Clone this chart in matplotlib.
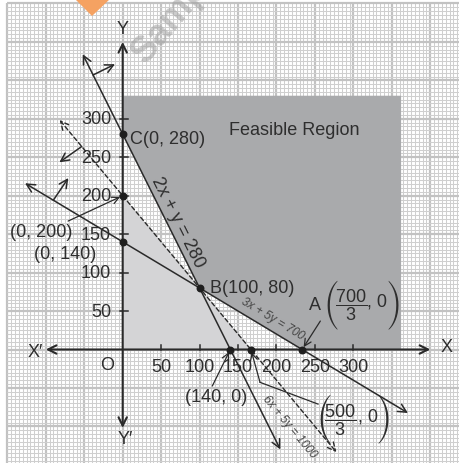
import numpy as np
import matplotlib
matplotlib.use("Agg")
import matplotlib.pyplot as plt
from matplotlib.patches import Polygon

plt.rcParams['font.family'] = ['Liberation Sans', 'DejaVu Sans']
plt.rcParams['mathtext.fontset'] = 'custom'
plt.rcParams['mathtext.rm'] = 'Liberation Sans'
plt.rcParams['mathtext.it'] = 'Liberation Sans:italic'
plt.rcParams['mathtext.bf'] = 'Liberation Sans:bold'

# ---- data ----
line_a = [2, 6, 3]
line_b = [1, 5, 5]
line_c = [280, 1000, 700]
line_x_start = [-52, -82, -127]
line_x_end = [205, 278, 371]
line_dashed = [False, True, False]
line_labels = ["2x + y = 280", "6x + 5y = 1000", "3x + 5y = 700"]

point_x = [0, 0, 0, 100, 140, 500 / 3, 700 / 3]
point_y = [280, 200, 140, 80, 0, 0, 0]

region_xmax = 362
region_ymax = 330

tick_vals = [50, 100, 150, 200, 250, 300]
tick_labels = ["50", "100", "150", "200", "250", "300"]

# half-plane indicator arrows: (start on line x, end x, end y)
hp_start_x = [-38.5, -53.3, -90.2]
hp_end = [(-10, 371), (-82.4, 243.4), (-70.7, 223)]

# ---- figure ----
W, H = 460, 464
fig = plt.figure(figsize=(W / 100, H / 100), dpi=100)
ax = fig.add_axes([0, 0, 1, 1])
u = 1 / 0.769
ox, oy = 122.7, 350.5
ax.set_xlim(-ox * u, (W - ox) * u)
ax.set_ylim(-(H - oy) * u, oy * u)
ax.set_aspect('equal')
ax.axis('off')

TXT = '#2e2e2e'
LN = '#2a2a2a'

# graph paper background
gx0, gy1 = -150, 450
xmax, ymin = ax.get_xlim()[1], ax.get_ylim()[0]
for gx in np.arange(gx0, xmax + 5, 5):
    major = (gx % 50 == 0)
    ax.plot([gx, gx], [ymin - 5, gy1], color='#c2c2c2' if major else '#cfcfcf',
            lw=1.6 if major else 0.75, zorder=0, solid_capstyle='butt')
for gy in np.arange(gy1, ymin - 5, -5):
    major = (gy % 50 == 0)
    ax.plot([gx0, xmax + 5], [gy, gy], color='#c2c2c2' if major else '#cfcfcf',
            lw=1.6 if major else 0.75, zorder=0, solid_capstyle='butt')

# light region: below dashed line in first quadrant
xi = line_c[1] / line_a[1]
yi = line_c[1] / line_b[1]
ax.add_patch(Polygon([(0, 0), (xi, 0), (0, yi)], closed=True,
                     facecolor='#d4d4d6', edgecolor='none', zorder=1))

# feasible region
Ax = line_c[2] / line_a[2]
Cy = line_c[0] / line_b[0]
ax.add_patch(Polygon([(Ax, 0), (region_xmax, 0), (region_xmax, region_ymax),
                      (0, region_ymax), (0, Cy), (point_x[3], point_y[3])],
                     closed=True, facecolor='#a9aaac', edgecolor='none', zorder=1))

arrow_kw = dict(arrowstyle='<->,head_length=0.6,head_width=0.3', color=LN, lw=1.1,
                shrinkA=0, shrinkB=0)

# constraint lines
for a, b, c, xs, xe, d in zip(line_a, line_b, line_c, line_x_start, line_x_end, line_dashed):
    ys = (c - a * xs) / b
    ye = (c - a * xe) / b
    kw = dict(arrow_kw)
    if d:
        kw['linestyle'] = (0, (3, 2))
        kw['lw'] = 1.0
    ax.annotate('', xy=(xe, ye), xytext=(xs, ys), arrowprops=kw, zorder=3)

# half-plane arrows
for a, b, c, sx, (ex, ey) in zip(line_a, line_b, line_c, hp_start_x, hp_end):
    sy = (c - a * sx) / b
    ax.annotate('', xy=(ex, ey), xytext=(sx, sy),
                arrowprops=dict(arrowstyle='->,head_length=0.6,head_width=0.3',
                                color=LN, lw=1.1, shrinkA=0, shrinkB=0), zorder=3)

# axes
ax.annotate('', xy=(400, 0), xytext=(-100, 0), arrowprops=dict(arrow_kw, lw=1.5), zorder=4)
ax.annotate('', xy=(0, 400), xytext=(0, -102), arrowprops=dict(arrow_kw, lw=1.5), zorder=4)

tl = 6.5
for t, lab in zip(tick_vals, tick_labels):
    ax.plot([t, t], [0, tl], color=LN, lw=1.1, zorder=4)
    ax.plot([-3, tl], [t, t], color=LN, lw=1.1, zorder=4)
    ax.text(t, -21.5, lab, ha='center', va='center', fontsize=13, color=TXT, zorder=2)
    ax.text(-15, t, lab, ha='right', va='center', fontsize=13, color=TXT, zorder=2)

ax.text(-20, -20, 'O', ha='center', va='center', fontsize=13, color=TXT)
ax.text(-114, -3, "X\u2032", ha='center', va='center', fontsize=13, color=TXT)
ax.text(421, 4, "X", ha='center', va='center', fontsize=13, color=TXT)
ax.text(0, 417, "Y", ha='center', va='center', fontsize=13, color=TXT)
ax.text(3, -116, "Y\u2032", ha='center', va='center', fontsize=13, color=TXT)

# points
ax.scatter(point_x, point_y, s=22, color='#1e1e1e', zorder=6)

# labels
ax.text(9.5, 274, "C(0, 280)", ha='left', va='center', fontsize=13, color=TXT, zorder=5)
ax.text(113, 80, "B(100, 80)", ha='left', va='center', fontsize=13, color=TXT, zorder=5)
ax.text(-105.6, 154, "(0, 200)", ha='center', va='center', fontsize=13, color=TXT, zorder=5)
ax.text(-75, 125, "(0, 140)", ha='center', va='center', fontsize=13, color=TXT, zorder=5)
ax.text(121.5, -60.5, "(140, 0)", ha='center', va='center', fontsize=13, color=TXT, zorder=5)
ax.text(223, 285.5, "Feasible Region", ha='center', va='center', fontsize=13, color=TXT, zorder=5)
ax.text(250, 59, "A", ha='center', va='center', fontsize=13, color=TXT, zorder=5)


def frac_label(xl, xf, xc, xr, y, num, den):
    pk = dict(ha='center', va='center', fontsize=14.5, color=TXT, zorder=5,
              family='STIXSizeThreeSym')
    ax.text(xl, y, "(", **pk)
    ax.text(xr, y, ")", **pk)
    ax.text(xf, y, r'$\dfrac{%s}{%s}$' % (num, den), ha='center', va='center',
            fontsize=13, color=TXT, zorder=5)
    ax.text(xc, y + 4, ", 0", ha='left', va='center', fontsize=13, color=TXT, zorder=5)


frac_label(271, 297, 318, 353, 59, "700", "3")
frac_label(261, 283, 306, 339, -90, "500", "3")

# label pointers
pkw = dict(arrowstyle='->,head_length=0.5,head_width=0.25', color=LN, lw=0.9,
           shrinkA=0, shrinkB=2)
ax.annotate('', xy=(point_x[1], point_y[1]), xytext=(-71, 167), arrowprops=pkw, zorder=5)
ax.annotate('', xy=(point_x[4], point_y[4]), xytext=(116.5, -47.5), arrowprops=pkw, zorder=5)
ax.annotate('', xy=(point_x[6], point_y[6]), xytext=(257, 37), arrowprops=pkw, zorder=5)
ax.plot([254, 178.6], [-71, -42.7], color=LN, lw=0.9, zorder=5)
ax.annotate('', xy=(point_x[5], point_y[5]), xytext=(178.6, -42.7), arrowprops=pkw, zorder=5)

# rotated line labels
ang = [-np.degrees(np.arctan2(a, b)) for a, b in zip(line_a, line_b)]
ax.text(72, 166, line_labels[0], rotation=ang[0], rotation_mode='anchor', ha='center',
        va='center', fontsize=13, color=TXT, zorder=5)
ax.text(216.6, -99.5, line_labels[1], rotation=ang[1], rotation_mode='anchor', ha='center',
        va='center', fontsize=8.5, color='#444444', style='italic', zorder=5)
ax.text(195, 41, line_labels[2], rotation=ang[2], rotation_mode='anchor', ha='center',
        va='center', fontsize=8.5, color='#444444', style='italic', zorder=5)

# watermark
ax.text(30, 372, "Sample", rotation=50, rotation_mode='anchor', ha='left', va='baseline',
        fontsize=26, fontweight='bold', color='#a0a0a0', alpha=0.55, zorder=7)
fig.patches.append(Polygon([(75 / W, 1), (110 / W, 1), (92 / W, 1 - 17 / H)], closed=True,
                           transform=fig.transFigure, facecolor='#f5a262', edgecolor='none',
                           zorder=8, figure=fig))

fig.savefig('out.png', dpi=100, facecolor='white')
